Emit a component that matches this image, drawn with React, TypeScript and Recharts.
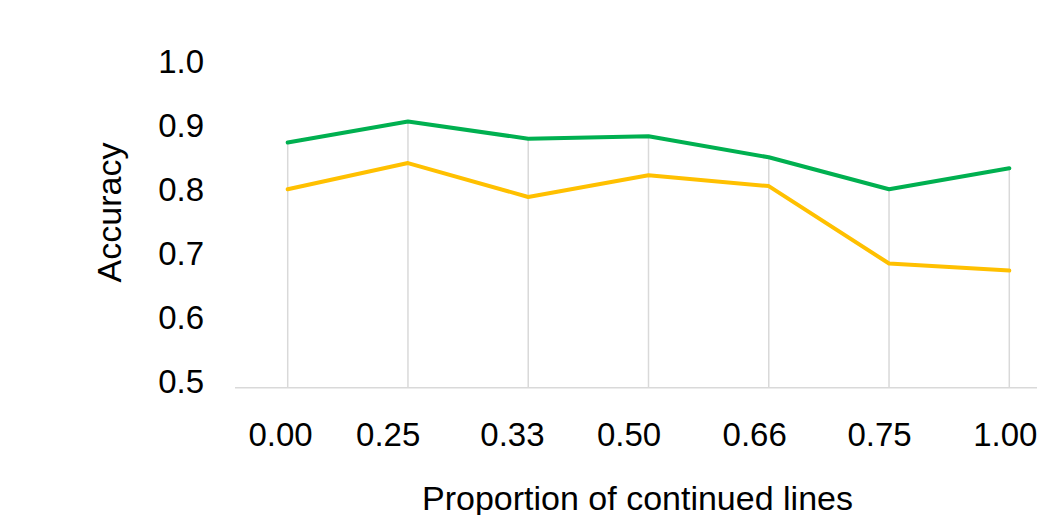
import { Line, LineChart, ReferenceLine, XAxis, YAxis } from 'recharts';

const categories = ['0.00', '0.25', '0.33', '0.50', '0.66', '0.75', '1.00'];
const greenAccuracy = [0.883, 0.916, 0.889, 0.893, 0.86, 0.81, 0.843];
const yellowAccuracy = [0.81, 0.851, 0.798, 0.832, 0.815, 0.694, 0.683];
const yTicks = [0.5, 0.6, 0.7, 0.8, 0.9, 1.0];

// the source labels sit a little left of their drop lines, not evenly
const xLabelNudge = [-7.2, -19.8, -15.8, -19.5, -14.1, -9.5, -4];

const FONT = '"Liberation Sans", Arial, sans-serif';

function YTick({ x, y, payload }: any) {
  return (
    <text x={x - 31} y={y} dy={5.6} textAnchor="end" fontFamily={FONT} fontSize={33} fill="#000">
      {Number(payload.value).toFixed(1)}
    </text>
  );
}

function XTick({ x, y, payload, index }: any) {
  return (
    <text
      x={x + (xLabelNudge[index] ?? 0)}
      y={y}
      dy={57.8}
      textAnchor="middle"
      fontFamily={FONT}
      fontSize={33}
      fill="#000"
    >
      {payload.value}
    </text>
  );
}

export default function App() {
  const chartData = categories.map((cat, i) => ({
    cat,
    green: greenAccuracy[i],
    yellow: yellowAccuracy[i]
  }));

  return (
    <div style={{ position: 'absolute', left: 0, top: 0, width: 1037, height: 515, background: '#fff' }}>
      <LineChart width={1037} height={515} data={chartData} margin={{ top: 67.7, right: 0, bottom: 67.3, left: 0 }}>
        <XAxis
          dataKey="cat"
          height={60}
          padding={{ left: 52.7, right: 27.7 }}
          axisLine={{ stroke: '#d9d9d9', strokeWidth: 1.5 }}
          tickLine={false}
          tickSize={0}
          tickMargin={0}
          tick={<XTick />}
          interval={0}
        />
        <YAxis
          width={235}
          domain={[0.5, 1]}
          ticks={yTicks}
          axisLine={false}
          tickLine={false}
          tickSize={0}
          tickMargin={0}
          tick={<YTick />}
          interval={0}
        />
        {chartData.map((d) => (
          <ReferenceLine
            key={d.cat}
            segment={[
              { x: d.cat, y: 0.5 },
              { x: d.cat, y: Math.max(d.green, d.yellow) }
            ]}
            stroke="#d9d9d9"
            strokeWidth={1.5}
          />
        ))}
        <Line
          type="linear"
          dataKey="yellow"
          name="Yellow"
          stroke="#ffc000"
          strokeWidth={4}
          strokeLinecap="round"
          strokeLinejoin="round"
          dot={false}
          activeDot={false}
          isAnimationActive={false}
        />
        <Line
          type="linear"
          dataKey="green"
          name="Green"
          stroke="#00b050"
          strokeWidth={4}
          strokeLinecap="round"
          strokeLinejoin="round"
          dot={false}
          activeDot={false}
          isAnimationActive={false}
        />
      </LineChart>
      <svg width={1037} height={515} style={{ position: 'absolute', left: 0, top: 0, pointerEvents: 'none' }}>
        <text x={637.5} y={509.5} textAnchor="middle" fontFamily={FONT} fontSize={34} fill="#000">
          Proportion of continued lines
        </text>
        <text
          x={0}
          y={0}
          transform="translate(120.5, 212.5) rotate(-90)"
          textAnchor="middle"
          fontFamily={FONT}
          fontSize={34}
          fill="#000"
        >
          Accuracy
        </text>
      </svg>
    </div>
  );
}
